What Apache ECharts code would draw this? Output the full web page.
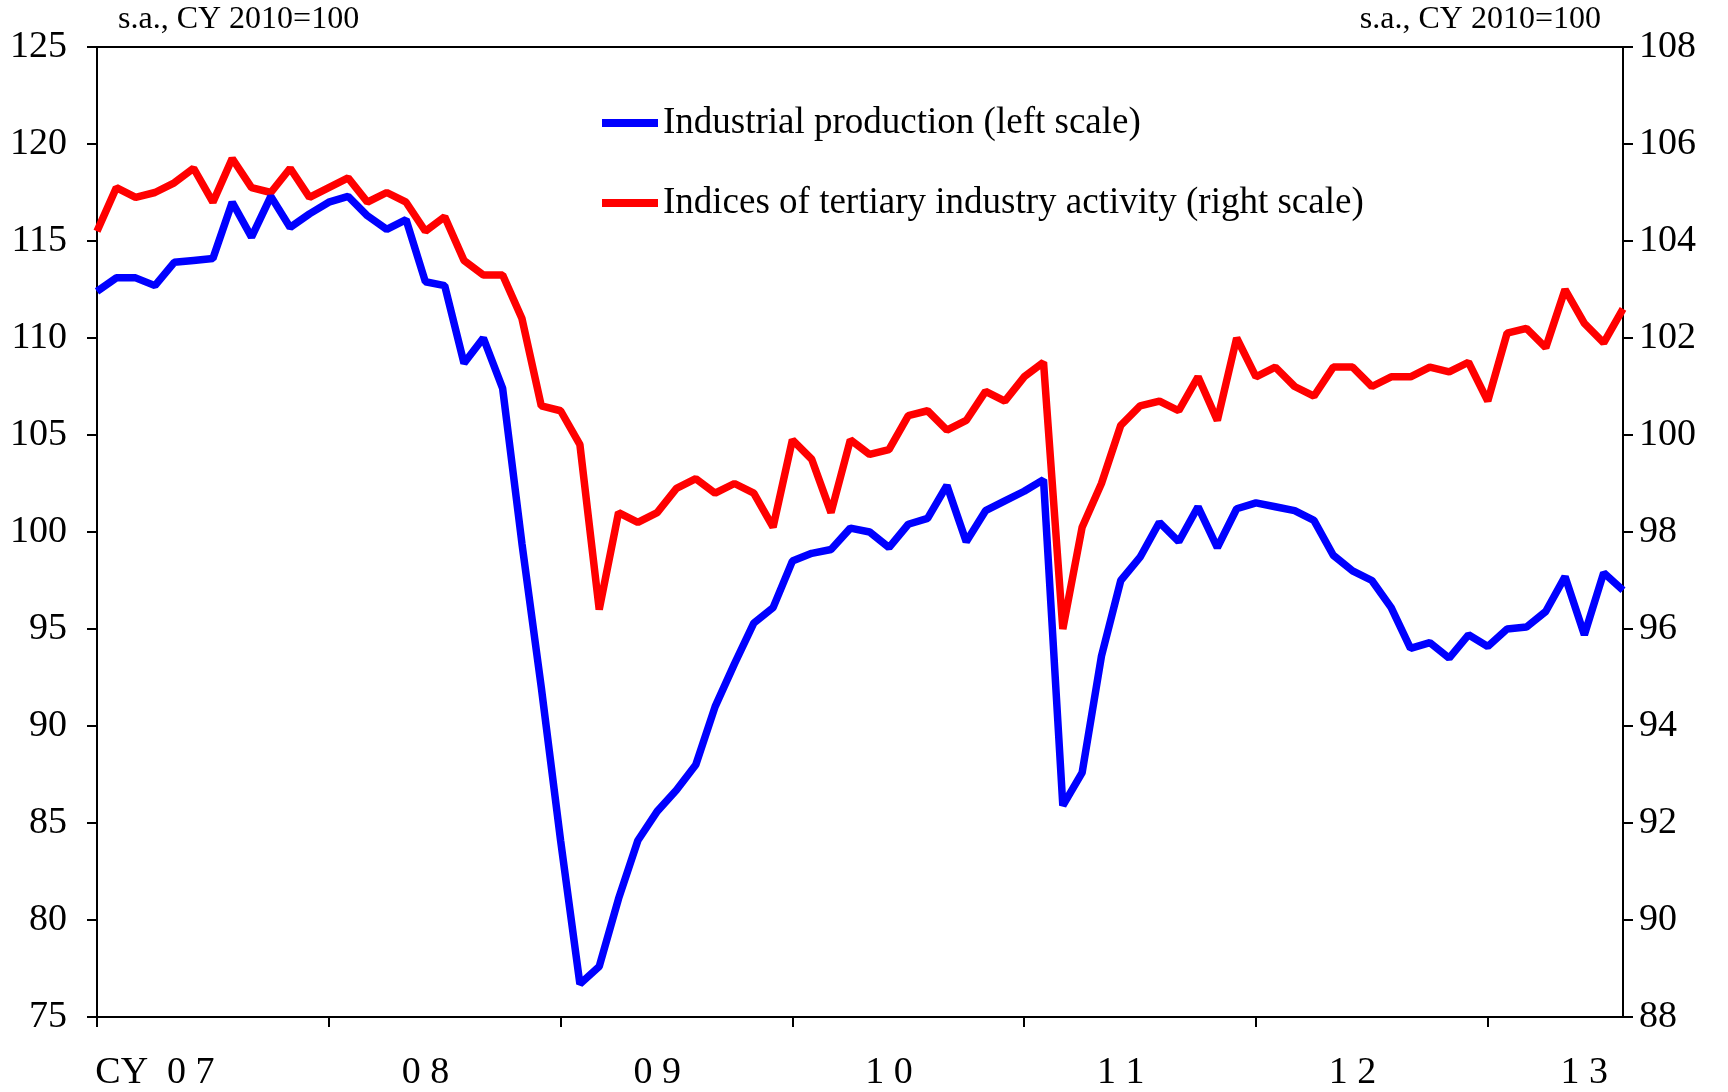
<!DOCTYPE html>
<html>
<head>
<meta charset="utf-8">
<script src="https://cdn.jsdelivr.net/npm/echarts@6/dist/echarts.min.js"></script>
<style>
  html, body { margin: 0; padding: 0; background: #fff; }
  #chart { width: 1728px; height: 1092px; }
</style>
</head>
<body>
<div id="chart"></div>
<script>
// years on the axis, monthly data Jan 2007 - Aug 2013
const years = [2007, 2008, 2009, 2010, 2011, 2012, 2013];
const yearLabels = ['CY  0 7', '0 8', '0 9', '1 0', '1 1', '1 2', '1 3'];
const labelIndex = [3, 17, 29, 41, 53, 65, 77];

// industrial production (left scale)
const industrial = [
  112.4, 113.1, 113.1, 112.7, 113.9, 114.0, 114.1, 117.0, 115.2, 117.3, 115.7, 116.4,
  117.0, 117.3, 116.3, 115.6, 116.1, 112.9, 112.7, 108.7, 110.0, 107.4, 99.4, 92.0,
  84.1, 76.7, 77.6, 81.1, 84.1, 85.6, 86.7, 88.0, 91.0, 93.2, 95.3, 96.1,
  98.5, 98.9, 99.1, 100.2, 100.0, 99.2, 100.4, 100.7, 102.4, 99.5, 101.1, 101.6,
  102.1, 102.7, 85.9, 87.6, 93.6, 97.5, 98.7, 100.5, 99.5, 101.3, 99.2, 101.2,
  101.5, 101.3, 101.1, 100.6, 98.8, 98.0, 97.5, 96.1, 94.0, 94.3, 93.5, 94.7,
  94.1, 95.0, 95.1, 95.9, 97.7, 94.7, 97.9, 97.0
];

// indices of tertiary industry activity (right scale)
const tertiary = [
  104.2, 105.1, 104.9, 105.0, 105.2, 105.5, 104.8, 105.7, 105.1, 105.0, 105.5, 104.9,
  105.1, 105.3, 104.8, 105.0, 104.8, 104.2, 104.5, 103.6, 103.3, 103.3, 102.4, 100.6,
  100.5, 99.8, 96.4, 98.4, 98.2, 98.4, 98.9, 99.1, 98.8, 99.0, 98.8, 98.1,
  99.9, 99.5, 98.4, 99.9, 99.6, 99.7, 100.4, 100.5, 100.1, 100.3, 100.9, 100.7,
  101.2, 101.5, 96.0, 98.1, 99.0, 100.2, 100.6, 100.7, 100.5, 101.2, 100.3, 102.0,
  101.2, 101.4, 101.0, 100.8, 101.4, 101.4, 101.0, 101.2, 101.2, 101.4, 101.3, 101.5,
  100.7, 102.1, 102.2, 101.8, 103.0, 102.3, 101.9, 102.6
];

const months = [];
years.forEach(y => {
  for (let m = 1; m <= 12; m++) {
    if (months.length < industrial.length) months.push(y + '-' + (m < 10 ? '0' + m : m));
  }
});

const font = '"Liberation Serif", "Times New Roman", serif';
const chart = echarts.init(document.getElementById('chart'));

const option = {
  backgroundColor: '#fff',
  animation: false,
  grid: {
    left: 97,
    right: 105,
    top: 47,
    bottom: 74,
    show: true,
    borderColor: '#000',
    borderWidth: 2
  },
  legend: {
    orient: 'vertical',
    left: 602,
    top: 103,
    padding: 0,
    icon: 'rect',
    itemWidth: 56,
    itemHeight: 8,
    itemGap: 40,
    data: ['Industrial production (left scale)', 'Indices of tertiary industry activity (right scale)'],
    textStyle: {
      fontFamily: font,
      fontSize: 37,
      lineHeight: 40,
      color: '#000'
    }
  },
  graphic: [
    {
      type: 'text',
      left: 118,
      top: 4,
      style: { text: 's.a., CY 2010=100', font: '32px ' + font, fill: '#000' }
    },
    {
      type: 'text',
      right: 127,
      top: 4,
      style: { text: 's.a., CY 2010=100', font: '32px ' + font, fill: '#000' }
    }
  ],
  xAxis: {
    type: 'category',
    boundaryGap: false,
    data: months,
    axisLine: { lineStyle: { color: '#000', width: 2 } },
    axisTick: {
      length: 10,
      interval: (i) => i % 12 === 0,
      lineStyle: { color: '#000', width: 2 }
    },
    axisLabel: {
      interval: (i) => labelIndex.indexOf(i) >= 0,
      formatter: (v, i) => yearLabels[labelIndex.indexOf(i)] || '',
      margin: 37,
      fontFamily: font,
      fontSize: 38,
      color: '#000'
    },
    splitLine: { show: false }
  },
  yAxis: [
    {
      type: 'value',
      min: 75,
      max: 125,
      interval: 5,
      axisLine: { show: true, lineStyle: { color: '#000', width: 2 } },
      axisTick: { show: true, length: 10, lineStyle: { color: '#000', width: 2 } },
      axisLabel: { margin: 30, fontFamily: font, fontSize: 38, color: '#000' },
      splitLine: { show: false }
    },
    {
      type: 'value',
      min: 88,
      max: 108,
      interval: 2,
      position: 'right',
      axisLine: { show: true, lineStyle: { color: '#000', width: 2 } },
      axisTick: { show: true, length: 10, lineStyle: { color: '#000', width: 2 } },
      axisLabel: { margin: 16, fontFamily: font, fontSize: 38, color: '#000' },
      splitLine: { show: false }
    }
  ],
  series: [
    {
      name: 'Indices of tertiary industry activity (right scale)',
      type: 'line',
      yAxisIndex: 1,
      data: tertiary,
      symbol: 'none',
      itemStyle: { color: '#ff0000' },
      lineStyle: { color: '#ff0000', width: 7.5 }
    },
    {
      name: 'Industrial production (left scale)',
      type: 'line',
      yAxisIndex: 0,
      data: industrial,
      symbol: 'none',
      itemStyle: { color: '#0000ff' },
      lineStyle: { color: '#0000ff', width: 7.5 }
    }
  ]
};

chart.setOption(option);
</script>
</body>
</html>
